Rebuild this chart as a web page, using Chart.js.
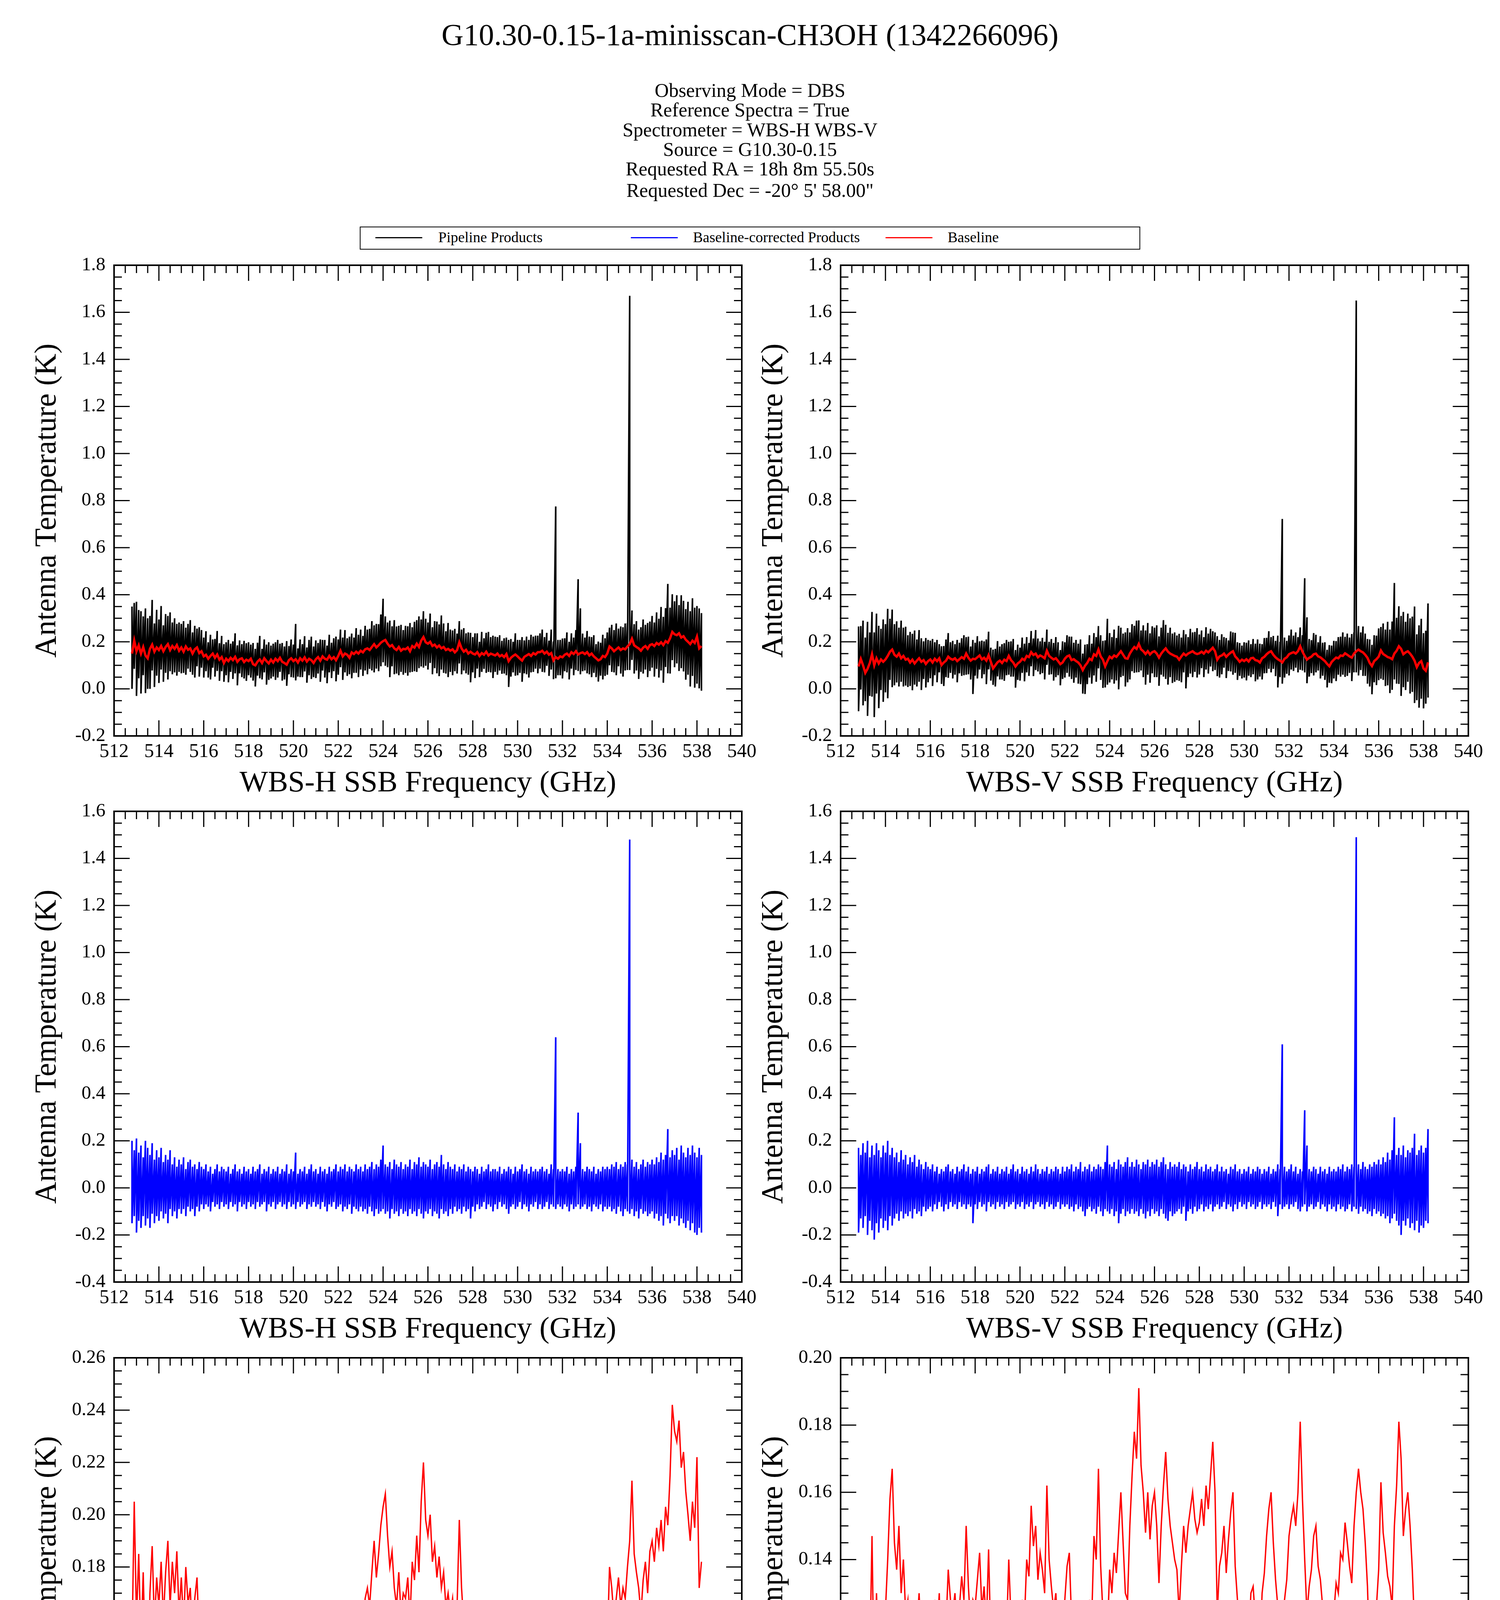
<!DOCTYPE html>
<html>
<head>
<meta charset="utf-8">
<title>G10.30-0.15-1a-minisscan-CH3OH (1342266096)</title>
<script src="https://cdn.jsdelivr.net/npm/chart.js@4.4.1/dist/chart.umd.min.js"></script>
<style>
  body { margin: 0; background: #fff; width: 3840px; height: 4915px; position: relative; overflow: hidden;
         font-family: "Liberation Serif", "Times New Roman", serif; color: #000; }
  .t { position: absolute; left: 0; width: 3840px; text-align: center; white-space: nowrap; }
  .title { top: 50px; font-size: 78px; line-height: 78px; }
  .info { font-size: 50px; line-height: 50px; }
  canvas { position: absolute; }
  #legend { position: absolute; left: 921px; top: 580px; width: 1994px; height: 55px; border: 2px solid #000; }
  #legend .ln { position: absolute; top: 25px; height: 3px; width: 120px; }
  #legend .tx { position: absolute; top: 6px; font-size: 38px; line-height: 38px; white-space: nowrap; }
</style>
</head>
<body>
<div class="t title">G10.30-0.15-1a-minisscan-CH3OH (1342266096)</div>
<div class="t info" style="top:206px">Observing Mode = DBS</div>
<div class="t info" style="top:256px">Reference Spectra = True</div>
<div class="t info" style="top:307px">Spectrometer = WBS-H WBS-V</div>
<div class="t info" style="top:357px">Source = G10.30-0.15</div>
<div class="t info" style="top:407px">Requested RA = 18h 8m 55.50s</div>
<div class="t info" style="top:462px">Requested Dec = -20° 5' 58.00"</div>

<div id="legend">
  <div class="ln" style="left:38px;background:#000"></div>
  <div class="tx" style="left:199px">Pipeline Products</div>
  <div class="ln" style="left:692px;background:#0000ff"></div>
  <div class="tx" style="left:851px">Baseline-corrected Products</div>
  <div class="ln" style="left:1344px;background:#ff0000"></div>
  <div class="tx" style="left:1503px">Baseline</div>
</div>

<canvas id="cTL" width="1939" height="1405" style="left:0px;top:639px"></canvas>
<canvas id="cTR" width="1939" height="1405" style="left:1860px;top:639px"></canvas>
<canvas id="cML" width="1939" height="1405" style="left:0px;top:2037px"></canvas>
<canvas id="cMR" width="1939" height="1405" style="left:1860px;top:2037px"></canvas>
<canvas id="cBL" width="1939" height="1405" style="left:0px;top:3436px"></canvas>
<canvas id="cBR" width="1939" height="1405" style="left:1860px;top:3436px"></canvas>

<script>
// channel frequencies (GHz), 0.1 GHz bins
const freq = [
  512.8, 512.9,
  513, 513.1, 513.2, 513.3, 513.4, 513.5, 513.6, 513.7, 513.8, 513.9,
  514, 514.1, 514.2, 514.3, 514.4, 514.5, 514.6, 514.7, 514.8, 514.9,
  515, 515.1, 515.2, 515.3, 515.4, 515.5, 515.6, 515.7, 515.8, 515.9,
  516, 516.1, 516.2, 516.3, 516.4, 516.5, 516.6, 516.7, 516.8, 516.9,
  517, 517.1, 517.2, 517.3, 517.4, 517.5, 517.6, 517.7, 517.8, 517.9,
  518, 518.1, 518.2, 518.3, 518.4, 518.5, 518.6, 518.7, 518.8, 518.9,
  519, 519.1, 519.2, 519.3, 519.4, 519.5, 519.6, 519.7, 519.8, 519.9,
  520, 520.1, 520.2, 520.3, 520.4, 520.5, 520.6, 520.7, 520.8, 520.9,
  521, 521.1, 521.2, 521.3, 521.4, 521.5, 521.6, 521.7, 521.8, 521.9,
  522, 522.1, 522.2, 522.3, 522.4, 522.5, 522.6, 522.7, 522.8, 522.9,
  523, 523.1, 523.2, 523.3, 523.4, 523.5, 523.6, 523.7, 523.8, 523.9,
  524, 524.1, 524.2, 524.3, 524.4, 524.5, 524.6, 524.7, 524.8, 524.9,
  525, 525.1, 525.2, 525.3, 525.4, 525.5, 525.6, 525.7, 525.8, 525.9,
  526, 526.1, 526.2, 526.3, 526.4, 526.5, 526.6, 526.7, 526.8, 526.9,
  527, 527.1, 527.2, 527.3, 527.4, 527.5, 527.6, 527.7, 527.8, 527.9,
  528, 528.1, 528.2, 528.3, 528.4, 528.5, 528.6, 528.7, 528.8, 528.9,
  529, 529.1, 529.2, 529.3, 529.4, 529.5, 529.6, 529.7, 529.8, 529.9,
  530, 530.1, 530.2, 530.3, 530.4, 530.5, 530.6, 530.7, 530.8, 530.9,
  531, 531.1, 531.2, 531.3, 531.4, 531.5, 531.6, 531.7, 531.8, 531.9,
  532, 532.1, 532.2, 532.3, 532.4, 532.5, 532.6, 532.7, 532.8, 532.9,
  533, 533.1, 533.2, 533.3, 533.4, 533.5, 533.6, 533.7, 533.8, 533.9,
  534, 534.1, 534.2, 534.3, 534.4, 534.5, 534.6, 534.7, 534.8, 534.9,
  535, 535.1, 535.2, 535.3, 535.4, 535.5, 535.6, 535.7, 535.8, 535.9,
  536, 536.1, 536.2, 536.3, 536.4, 536.5, 536.6, 536.7, 536.8, 536.9,
  537, 537.1, 537.2, 537.3, 537.4, 537.5, 537.6, 537.7, 537.8, 537.9,
  538, 538.1, 538.2
];

// fitted baseline (K), WBS-H
const baseH = [
  0.150, 0.205,
  0.160, 0.185, 0.150, 0.178, 0.142, 0.130, 0.170, 0.188, 0.158, 0.176,
  0.165, 0.182, 0.160, 0.178, 0.190, 0.165, 0.182, 0.170, 0.186, 0.162,
  0.176, 0.158, 0.180, 0.166, 0.172, 0.150, 0.168, 0.176, 0.152, 0.160,
  0.138, 0.145, 0.128, 0.140, 0.150, 0.132, 0.146, 0.124, 0.135, 0.110,
  0.128, 0.118, 0.132, 0.122, 0.136, 0.115, 0.126, 0.130, 0.114, 0.124,
  0.118, 0.128, 0.105, 0.100, 0.116, 0.125, 0.110, 0.130, 0.118, 0.108,
  0.124, 0.112, 0.128, 0.118, 0.132, 0.115, 0.110, 0.103, 0.122, 0.130,
  0.118, 0.126, 0.112, 0.130, 0.120, 0.134, 0.116, 0.128, 0.122, 0.110,
  0.126, 0.135, 0.120, 0.138, 0.128, 0.124, 0.140, 0.126, 0.135, 0.122,
  0.140, 0.162, 0.138, 0.150, 0.145, 0.132, 0.155, 0.148, 0.158, 0.150,
  0.162, 0.155, 0.168, 0.172, 0.165, 0.178, 0.190, 0.176, 0.185, 0.196,
  0.203, 0.208, 0.192, 0.180, 0.186, 0.172, 0.165, 0.178, 0.162, 0.170,
  0.168, 0.176, 0.160, 0.182, 0.175, 0.192, 0.178, 0.205, 0.220, 0.198,
  0.192, 0.200, 0.182, 0.188, 0.176, 0.184, 0.172, 0.178, 0.165, 0.170,
  0.162, 0.168, 0.155, 0.165, 0.198, 0.172, 0.158, 0.166, 0.150, 0.158,
  0.150, 0.146, 0.156, 0.140, 0.152, 0.145, 0.158, 0.142, 0.150, 0.146,
  0.142, 0.150, 0.138, 0.144, 0.135, 0.148, 0.118, 0.132, 0.140, 0.146,
  0.138, 0.128, 0.120, 0.136, 0.142, 0.148, 0.140, 0.152, 0.146, 0.156,
  0.156, 0.162, 0.150, 0.158, 0.145, 0.152, 0.121, 0.135, 0.128, 0.138,
  0.134, 0.145, 0.150, 0.140, 0.156, 0.148, 0.160, 0.146, 0.152, 0.155,
  0.148, 0.156, 0.142, 0.150, 0.138, 0.130, 0.121, 0.126, 0.140, 0.135,
  0.150, 0.180, 0.172, 0.160, 0.168, 0.176, 0.165, 0.172, 0.168, 0.180,
  0.190, 0.213, 0.185, 0.178, 0.172, 0.162, 0.175, 0.182, 0.170, 0.186,
  0.190, 0.182, 0.195, 0.188, 0.198, 0.186, 0.203, 0.196, 0.215, 0.242,
  0.232, 0.228, 0.236, 0.218, 0.224, 0.209, 0.200, 0.190, 0.205, 0.195,
  0.222, 0.172, 0.182
];

// fitted baseline (K), WBS-V
const baseV = [
  0.095, 0.127,
  0.100, 0.068, 0.085, 0.110, 0.147, 0.100, 0.130, 0.108, 0.125, 0.115,
  0.125, 0.140, 0.158, 0.167, 0.145, 0.137, 0.150, 0.130, 0.140, 0.124,
  0.128, 0.112, 0.124, 0.108, 0.120, 0.130, 0.115, 0.122, 0.106, 0.118,
  0.125, 0.112, 0.128, 0.118, 0.130, 0.101, 0.112, 0.120, 0.137, 0.128,
  0.124, 0.130, 0.118, 0.126, 0.135, 0.128, 0.150, 0.132, 0.120, 0.128,
  0.126, 0.134, 0.142, 0.125, 0.132, 0.120, 0.143, 0.115, 0.087, 0.100,
  0.113, 0.120, 0.110, 0.124, 0.118, 0.140, 0.122, 0.112, 0.095, 0.108,
  0.115, 0.128, 0.122, 0.140, 0.135, 0.156, 0.144, 0.150, 0.134, 0.142,
  0.137, 0.130, 0.162, 0.140, 0.132, 0.125, 0.130, 0.118, 0.105, 0.112,
  0.128, 0.138, 0.142, 0.122, 0.126, 0.118, 0.112, 0.100, 0.080, 0.098,
  0.110, 0.128, 0.122, 0.147, 0.140, 0.167, 0.138, 0.124, 0.096, 0.118,
  0.137, 0.130, 0.142, 0.136, 0.148, 0.160, 0.145, 0.130, 0.128, 0.150,
  0.165, 0.178, 0.170, 0.191, 0.168, 0.160, 0.148, 0.160, 0.146, 0.156,
  0.160, 0.150, 0.133, 0.150, 0.162, 0.172, 0.158, 0.150, 0.145, 0.140,
  0.137, 0.124, 0.138, 0.150, 0.142, 0.150, 0.155, 0.160, 0.152, 0.148,
  0.151, 0.158, 0.150, 0.162, 0.155, 0.165, 0.175, 0.160, 0.124, 0.138,
  0.142, 0.150, 0.136, 0.146, 0.154, 0.160, 0.138, 0.128, 0.115, 0.124,
  0.118, 0.126, 0.116, 0.130, 0.132, 0.122, 0.120, 0.112, 0.130, 0.136,
  0.147, 0.155, 0.160, 0.145, 0.134, 0.126, 0.120, 0.112, 0.128, 0.134,
  0.147, 0.152, 0.156, 0.150, 0.160, 0.181, 0.158, 0.140, 0.124, 0.132,
  0.137, 0.147, 0.150, 0.138, 0.134, 0.126, 0.118, 0.106, 0.096, 0.114,
  0.124, 0.133, 0.130, 0.142, 0.140, 0.151, 0.145, 0.138, 0.133, 0.150,
  0.160, 0.167, 0.160, 0.155, 0.145, 0.132, 0.110, 0.097, 0.118, 0.126,
  0.137, 0.163, 0.148, 0.142, 0.135, 0.132, 0.126, 0.150, 0.162, 0.181,
  0.170, 0.147, 0.155, 0.160, 0.150, 0.137, 0.120, 0.092, 0.110, 0.118,
  0.087, 0.077, 0.113
];

// baseline-corrected spectrum, per-bin max / min (K), WBS-H
const resHhi = [
  0.20, 0.16,
  0.21, 0.15, 0.18, 0.13, 0.20, 0.17, 0.14, 0.19, 0.12, 0.16,
  0.13, 0.17, 0.11, 0.14, 0.12, 0.16, 0.10, 0.13, 0.09, 0.12,
  0.10, 0.13, 0.08, 0.11, 0.12, 0.09, 0.10, 0.08, 0.11, 0.09,
  0.08, 0.10, 0.07, 0.09, 0.06, 0.08, 0.10, 0.07, 0.09, 0.08,
  0.07, 0.09, 0.06, 0.08, 0.10, 0.07, 0.08, 0.06, 0.09, 0.07,
  0.08, 0.06, 0.09, 0.07, 0.08, 0.10, 0.06, 0.08, 0.07, 0.09,
  0.06, 0.08, 0.07, 0.09, 0.06, 0.08, 0.07, 0.10, 0.06, 0.08,
  0.07, 0.15, 0.06, 0.08, 0.07, 0.09, 0.06, 0.08, 0.10, 0.07,
  0.08, 0.06, 0.09, 0.07, 0.08, 0.06, 0.09, 0.07, 0.08, 0.10,
  0.07, 0.09, 0.08, 0.10, 0.07, 0.09, 0.08, 0.07, 0.10, 0.08,
  0.09, 0.07, 0.10, 0.08, 0.09, 0.11, 0.08, 0.10, 0.09, 0.12,
  0.18, 0.10, 0.09, 0.11, 0.08, 0.12, 0.10, 0.09, 0.11, 0.08,
  0.10, 0.09, 0.12, 0.08, 0.11, 0.10, 0.13, 0.09, 0.11, 0.10,
  0.09, 0.12, 0.08, 0.10, 0.11, 0.09, 0.14, 0.10, 0.08, 0.11,
  0.09, 0.08, 0.10, 0.07, 0.09, 0.08, 0.10, 0.07, 0.09, 0.08,
  0.07, 0.09, 0.08, 0.06, 0.09, 0.07, 0.08, 0.10, 0.07, 0.08,
  0.08, 0.07, 0.09, 0.06, 0.08, 0.07, 0.09, 0.08, 0.06, 0.09,
  0.07, 0.08, 0.10, 0.07, 0.08, 0.06, 0.09, 0.07, 0.08, 0.07,
  0.08, 0.09, 0.07, 0.08, 0.06, 0.10, 0.08, 0.64, 0.08, 0.07,
  0.08, 0.07, 0.09, 0.06, 0.08, 0.07, 0.09, 0.32, 0.19, 0.08,
  0.07, 0.09, 0.08, 0.07, 0.09, 0.06, 0.08, 0.07, 0.09, 0.08,
  0.09, 0.08, 0.10, 0.09, 0.11, 0.08, 0.10, 0.09, 0.11, 0.10,
  1.48, 0.12, 0.09, 0.11, 0.08, 0.10, 0.12, 0.09, 0.11, 0.10,
  0.12, 0.10, 0.13, 0.11, 0.15, 0.12, 0.14, 0.25, 0.13, 0.16,
  0.14, 0.17, 0.12, 0.18, 0.15, 0.13, 0.17, 0.14, 0.18, 0.15,
  0.13, 0.17, 0.14
];
const resHlo = [
  -0.15, -0.12,
  -0.19, -0.14, -0.17, -0.12, -0.16, -0.13, -0.17, -0.11, -0.15, -0.12,
  -0.14, -0.10, -0.13, -0.11, -0.15, -0.09, -0.12, -0.10, -0.13, -0.09,
  -0.11, -0.09, -0.12, -0.08, -0.10, -0.09, -0.12, -0.08, -0.10, -0.07,
  -0.09, -0.07, -0.08, -0.10, -0.06, -0.08, -0.07, -0.09, -0.06, -0.08,
  -0.07, -0.09, -0.06, -0.08, -0.07, -0.10, -0.06, -0.08, -0.07, -0.09,
  -0.06, -0.08, -0.07, -0.09, -0.06, -0.08, -0.07, -0.06, -0.10, -0.07,
  -0.08, -0.06, -0.09, -0.07, -0.06, -0.08, -0.07, -0.09, -0.06, -0.08,
  -0.07, -0.09, -0.06, -0.08, -0.07, -0.06, -0.09, -0.07, -0.08, -0.06,
  -0.08, -0.07, -0.09, -0.06, -0.08, -0.10, -0.07, -0.08, -0.06, -0.09,
  -0.08, -0.07, -0.10, -0.08, -0.09, -0.07, -0.11, -0.08, -0.09, -0.10,
  -0.08, -0.10, -0.09, -0.11, -0.08, -0.10, -0.12, -0.09, -0.11, -0.10,
  -0.09, -0.11, -0.10, -0.13, -0.09, -0.11, -0.10, -0.12, -0.09, -0.11,
  -0.10, -0.12, -0.09, -0.11, -0.10, -0.12, -0.09, -0.11, -0.13, -0.10,
  -0.11, -0.09, -0.12, -0.10, -0.11, -0.13, -0.09, -0.11, -0.10, -0.12,
  -0.09, -0.11, -0.08, -0.10, -0.09, -0.11, -0.08, -0.10, -0.09, -0.13,
  -0.08, -0.10, -0.07, -0.09, -0.08, -0.06, -0.09, -0.07, -0.08, -0.10,
  -0.07, -0.09, -0.06, -0.08, -0.07, -0.09, -0.11, -0.08, -0.07, -0.09,
  -0.08, -0.06, -0.09, -0.07, -0.08, -0.10, -0.07, -0.08, -0.06, -0.09,
  -0.07, -0.09, -0.08, -0.06, -0.09, -0.07, -0.08, -0.09, -0.07, -0.08,
  -0.09, -0.07, -0.08, -0.10, -0.07, -0.09, -0.08, -0.07, -0.09, -0.08,
  -0.07, -0.09, -0.08, -0.10, -0.07, -0.08, -0.09, -0.07, -0.10, -0.08,
  -0.09, -0.08, -0.10, -0.09, -0.11, -0.08, -0.10, -0.12, -0.09, -0.10,
  -0.11, -0.09, -0.12, -0.10, -0.13, -0.09, -0.11, -0.10, -0.12, -0.11,
  -0.10, -0.13, -0.11, -0.14, -0.12, -0.16, -0.11, -0.13, -0.15, -0.12,
  -0.14, -0.12, -0.16, -0.13, -0.15, -0.17, -0.14, -0.18, -0.15, -0.19,
  -0.20, -0.17, -0.19
];

// baseline-corrected spectrum, per-bin max / min (K), WBS-V
const resVhi = [
  0.17, 0.14,
  0.19, 0.15, 0.20, 0.13, 0.18, 0.14, 0.19, 0.16, 0.13, 0.18,
  0.15, 0.20, 0.14, 0.17, 0.13, 0.15, 0.11, 0.16, 0.12, 0.14,
  0.10, 0.13, 0.11, 0.14, 0.09, 0.12, 0.10, 0.08, 0.11, 0.09,
  0.08, 0.10, 0.07, 0.09, 0.06, 0.08, 0.07, 0.09, 0.10, 0.07,
  0.08, 0.06, 0.09, 0.07, 0.08, 0.10, 0.07, 0.09, 0.06, 0.08,
  0.07, 0.09, 0.06, 0.08, 0.07, 0.09, 0.10, 0.06, 0.08, 0.07,
  0.09, 0.06, 0.08, 0.07, 0.09, 0.06, 0.08, 0.10, 0.07, 0.08,
  0.06, 0.09, 0.07, 0.08, 0.06, 0.09, 0.07, 0.10, 0.08, 0.06,
  0.08, 0.07, 0.09, 0.06, 0.08, 0.07, 0.09, 0.08, 0.06, 0.09,
  0.07, 0.09, 0.08, 0.10, 0.07, 0.09, 0.08, 0.11, 0.07, 0.09,
  0.08, 0.10, 0.07, 0.09, 0.08, 0.10, 0.09, 0.08, 0.11, 0.18,
  0.10, 0.09, 0.11, 0.08, 0.12, 0.10, 0.09, 0.11, 0.13, 0.09,
  0.11, 0.09, 0.12, 0.10, 0.08, 0.11, 0.10, 0.12, 0.09, 0.11,
  0.10, 0.12, 0.09, 0.11, 0.13, 0.10, 0.08, 0.11, 0.09, 0.10,
  0.09, 0.11, 0.08, 0.10, 0.09, 0.07, 0.10, 0.08, 0.09, 0.11,
  0.08, 0.09, 0.07, 0.10, 0.08, 0.09, 0.07, 0.08, 0.10, 0.07,
  0.09, 0.07, 0.08, 0.06, 0.09, 0.08, 0.10, 0.07, 0.08, 0.06,
  0.08, 0.07, 0.09, 0.06, 0.08, 0.07, 0.09, 0.08, 0.06, 0.08,
  0.07, 0.09, 0.06, 0.08, 0.07, 0.10, 0.08, 0.61, 0.09, 0.07,
  0.08, 0.10, 0.07, 0.09, 0.06, 0.08, 0.07, 0.33, 0.18, 0.08,
  0.07, 0.09, 0.08, 0.06, 0.09, 0.07, 0.08, 0.06, 0.09, 0.07,
  0.08, 0.07, 0.09, 0.08, 0.10, 0.07, 0.09, 0.08, 0.10, 0.09,
  1.49, 0.10, 0.08, 0.11, 0.09, 0.08, 0.10, 0.09, 0.11, 0.10,
  0.12, 0.10, 0.13, 0.11, 0.15, 0.12, 0.16, 0.30, 0.14, 0.17,
  0.14, 0.18, 0.13, 0.16, 0.15, 0.17, 0.23, 0.14, 0.16, 0.18,
  0.15, 0.17, 0.25
];
const resVlo = [
  -0.19, -0.13,
  -0.17, -0.12, -0.20, -0.14, -0.18, -0.22, -0.15, -0.19, -0.13, -0.17,
  -0.14, -0.18, -0.12, -0.16, -0.13, -0.11, -0.14, -0.10, -0.13, -0.11,
  -0.12, -0.10, -0.13, -0.09, -0.11, -0.10, -0.12, -0.08, -0.10, -0.09,
  -0.08, -0.10, -0.07, -0.09, -0.06, -0.08, -0.10, -0.07, -0.09, -0.06,
  -0.08, -0.07, -0.09, -0.06, -0.08, -0.07, -0.09, -0.07, -0.08, -0.15,
  -0.07, -0.09, -0.06, -0.08, -0.07, -0.10, -0.06, -0.08, -0.07, -0.09,
  -0.06, -0.08, -0.07, -0.09, -0.06, -0.08, -0.07, -0.06, -0.09, -0.07,
  -0.08, -0.06, -0.09, -0.07, -0.08, -0.06, -0.09, -0.07, -0.06, -0.08,
  -0.07, -0.09, -0.06, -0.08, -0.07, -0.09, -0.08, -0.06, -0.09, -0.07,
  -0.08, -0.07, -0.09, -0.08, -0.10, -0.07, -0.09, -0.08, -0.10, -0.12,
  -0.09, -0.08, -0.10, -0.09, -0.11, -0.08, -0.10, -0.12, -0.09, -0.10,
  -0.11, -0.09, -0.12, -0.10, -0.15, -0.11, -0.09, -0.12, -0.10, -0.11,
  -0.09, -0.11, -0.10, -0.12, -0.09, -0.11, -0.13, -0.10, -0.12, -0.09,
  -0.11, -0.10, -0.12, -0.09, -0.11, -0.13, -0.14, -0.10, -0.12, -0.11,
  -0.10, -0.09, -0.11, -0.08, -0.14, -0.10, -0.09, -0.11, -0.08, -0.10,
  -0.09, -0.07, -0.10, -0.08, -0.09, -0.07, -0.10, -0.08, -0.07, -0.09,
  -0.08, -0.06, -0.09, -0.07, -0.08, -0.10, -0.07, -0.09, -0.06, -0.08,
  -0.07, -0.09, -0.06, -0.08, -0.07, -0.09, -0.08, -0.06, -0.09, -0.07,
  -0.08, -0.07, -0.09, -0.06, -0.08, -0.12, -0.07, -0.09, -0.08, -0.07,
  -0.09, -0.07, -0.08, -0.06, -0.09, -0.10, -0.08, -0.07, -0.10, -0.08,
  -0.07, -0.09, -0.08, -0.06, -0.09, -0.07, -0.08, -0.10, -0.07, -0.09,
  -0.08, -0.10, -0.07, -0.09, -0.08, -0.10, -0.09, -0.07, -0.10, -0.08,
  -0.09, -0.11, -0.08, -0.10, -0.09, -0.11, -0.10, -0.12, -0.09, -0.11,
  -0.10, -0.12, -0.11, -0.13, -0.12, -0.15, -0.13, -0.11, -0.14, -0.16,
  -0.20, -0.14, -0.16, -0.13, -0.17, -0.15, -0.18, -0.14, -0.19, -0.16,
  -0.17, -0.14, -0.15
];

// tick labels
const xTicks = [512, 514, 516, 518, 520, 522, 524, 526, 528, 530, 532, 534, 536, 538, 540];
const yTicksTop = [-0.2, 0, 0.2, 0.4, 0.6, 0.8, 1.0, 1.2, 1.4, 1.6, 1.8];
const yTicksMid = [-0.4, -0.2, 0, 0.2, 0.4, 0.6, 0.8, 1.0, 1.2, 1.4, 1.6];
const yTicksBotH = [0.08, 0.10, 0.12, 0.14, 0.16, 0.18, 0.20, 0.22, 0.24, 0.26];
const yTicksBotV = [0.06, 0.08, 0.10, 0.12, 0.14, 0.16, 0.18, 0.20];

Chart.defaults.font.family = '"Liberation Serif", "Times New Roman", serif';
Chart.defaults.color = '#000';

// pipeline product = baseline + baseline-corrected product
function addArr(a, b) { return a.map((v, i) => v + b[i]); }
function linePts(vals) { return freq.map((f, i) => ({ x: f, y: vals[i] })); }
function bandPts(hi, lo) {
  const pts = [];
  freq.forEach((f, i) => { pts.push({ x: f, y: hi[i] }, { x: f, y: lo[i] }); });
  return pts;
}

// box frame with inward major/minor ticks on all four sides
const frameTicks = {
  id: 'frameTicks',
  afterDraw(chart) {
    const { ctx, chartArea: a, scales: { x, y } } = chart;
    ctx.save();
    ctx.strokeStyle = '#000';
    ctx.lineWidth = 3;
    ctx.beginPath();
    const nx = Math.round((x.max - x.min) / 0.5);
    for (let k = 0; k <= nx; k++) {
      const px = x.getPixelForValue(x.min + k * 0.5);
      const len = k % 4 === 0 ? 40 : 20;
      ctx.moveTo(px, a.bottom); ctx.lineTo(px, a.bottom - len);
      ctx.moveTo(px, a.top); ctx.lineTo(px, a.top + len);
    }
    const yStep = chart.options.plugins.frameTicks.yStep / 4;
    const ny = Math.round((y.max - y.min) / yStep);
    for (let k = 0; k <= ny; k++) {
      const py = y.getPixelForValue(y.min + k * yStep);
      const len = k % 4 === 0 ? 40 : 20;
      ctx.moveTo(a.left, py); ctx.lineTo(a.left + len, py);
      ctx.moveTo(a.right, py); ctx.lineTo(a.right - len, py);
    }
    ctx.stroke();
    ctx.lineWidth = 4;
    ctx.strokeRect(a.left, a.top, a.right - a.left, a.bottom - a.top);
    ctx.restore();
  }
};

// fixed axis boxes so the plot areas line up exactly
function fixScale(size) {
  return (s) => {
    if (s.isHorizontal()) s.height = size; else s.width = size;
    s.paddingTop = 0; s.paddingBottom = 0; s.paddingLeft = 0; s.paddingRight = 0;
  };
}

function panel(id, datasets, yTicks, digits, xLabel) {
  const yStep = +(yTicks[1] - yTicks[0]).toFixed(4);
  new Chart(document.getElementById(id), {
    type: 'line',
    data: { datasets },
    options: {
      responsive: false,
      animation: false,
      devicePixelRatio: 1,
      events: [],
      parsing: false,
      layout: { padding: { top: 40, right: 40, left: 0, bottom: 0 } },
      elements: { point: { radius: 0 }, line: { tension: 0, borderJoinStyle: 'miter' } },
      plugins: { legend: { display: false }, tooltip: { enabled: false }, frameTicks: { yStep } },
      scales: {
        x: {
          type: 'linear', min: 512, max: 540,
          afterFit: fixScale(160),
          afterBuildTicks: (s) => { s.ticks = xTicks.map((v) => ({ value: v })); },
          grid: { display: false, drawTicks: false },
          border: { display: false },
          ticks: { padding: 11, font: { size: 50 }, maxRotation: 0, autoSkip: false, callback: (v) => String(v) },
          title: { display: true, text: xLabel, font: { size: 77, lineHeight: 1 }, padding: { top: 14, bottom: 0 } }
        },
        y: {
          type: 'linear', min: yTicks[0], max: yTicks[yTicks.length - 1],
          afterFit: fixScale(292),
          afterBuildTicks: (s) => { s.ticks = yTicks.map((v) => ({ value: v })); },
          grid: { display: false, drawTicks: false },
          border: { display: false },
          ticks: { padding: 22, font: { size: 49 }, autoSkip: false, callback: (v) => Number(v).toFixed(digits) },
          title: { display: true, text: 'Antenna Temperature (K)', font: { size: 78, lineHeight: 1 }, padding: { top: 83, bottom: 0 } }
        }
      }
    },
    plugins: [frameTicks]
  });
}

const red = (vals, w) => ({ data: linePts(vals), borderColor: '#ff0000', borderWidth: w });
const band = (hi, lo, color) => ({ data: bandPts(hi, lo), borderColor: color, borderWidth: 4 });

panel('cTL', [red(baseH, 6), band(addArr(baseH, resHhi), addArr(baseH, resHlo), '#000000')], yTicksTop, 1, 'WBS-H SSB Frequency (GHz)');
panel('cTR', [red(baseV, 6), band(addArr(baseV, resVhi), addArr(baseV, resVlo), '#000000')], yTicksTop, 1, 'WBS-V SSB Frequency (GHz)');
panel('cML', [band(resHhi, resHlo, '#0000ff')], yTicksMid, 1, 'WBS-H SSB Frequency (GHz)');
panel('cMR', [band(resVhi, resVlo, '#0000ff')], yTicksMid, 1, 'WBS-V SSB Frequency (GHz)');
panel('cBL', [red(baseH, 3.5)], yTicksBotH, 2, 'WBS-H SSB Frequency (GHz)');
panel('cBR', [red(baseV, 3.5)], yTicksBotV, 2, 'WBS-V SSB Frequency (GHz)');
</script>
</body>
</html>
